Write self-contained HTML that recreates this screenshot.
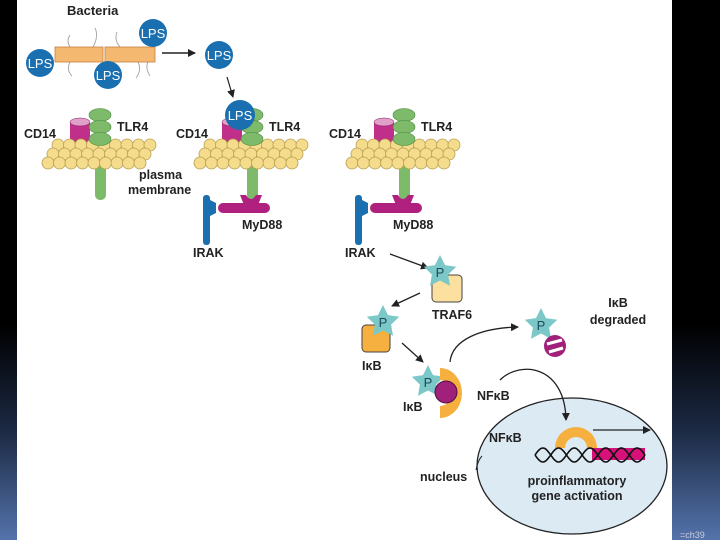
<!DOCTYPE html>
<html><head><meta charset="utf-8"><style>
html,body{margin:0;padding:0;width:720px;height:540px;overflow:hidden;background:#000}
svg{display:block}
text{font-family:"Liberation Sans",Arial,sans-serif;font-weight:bold;fill:#222}
</style></head><body>
<svg id="s" width="720" height="540" viewBox="0 0 720 540" xmlns="http://www.w3.org/2000/svg">
<defs>
<linearGradient id="bg" x1="0" y1="0" x2="0" y2="1">
<stop offset="0" stop-color="#000"/><stop offset="0.6" stop-color="#000"/><stop offset="0.8" stop-color="#1c2a44"/><stop offset="1" stop-color="#5473ab"/>
</linearGradient>
<marker id="ah" markerWidth="8" markerHeight="8" refX="7" refY="4" orient="auto" markerUnits="userSpaceOnUse"><path d="M0,0 L8,4 L0,8 Z" fill="#222"/></marker>
</defs>
<rect width="720" height="540" fill="url(#bg)"/>
<rect x="17" y="0" width="655" height="540" fill="#fff"/>
<g id="mem"></g>

<!-- Bacteria -->
<text x="67" y="15" font-size="13">Bacteria</text>
<g stroke="#aaa" fill="none" stroke-width="1">
<path d="M70,35 q-4,6 0,12"/><path d="M95,28 q4,8 -2,19"/><path d="M117,32 q-3,8 3,15"/>
<path d="M70,62 q-4,8 2,14"/><path d="M138,62 q4,8 -2,16"/><path d="M148,62 q-3,6 2,14"/>
</g>
<rect x="55" y="47" width="48" height="15" fill="#f5b870" stroke="#c08040" stroke-width="0.8"/>
<rect x="105" y="47" width="50" height="15" fill="#f5b870" stroke="#c08040" stroke-width="0.8"/>
<g font-size="13" text-anchor="middle">
<circle cx="40" cy="63" r="14" fill="#1a6fb0"/><text x="40" y="68" style="fill:#fff;font-weight:normal">LPS</text>
<circle cx="153" cy="33" r="14" fill="#1a6fb0"/><text x="153" y="38" style="fill:#fff;font-weight:normal">LPS</text>
<circle cx="108" cy="75" r="14" fill="#1a6fb0"/><text x="108" y="80" style="fill:#fff;font-weight:normal">LPS</text>
<circle cx="219" cy="55" r="14" fill="#1a6fb0"/><text x="219" y="60" style="fill:#fff;font-weight:normal">LPS</text>
</g>
<line x1="162" y1="53" x2="195" y2="53" stroke="#222" stroke-width="1.5" marker-end="url(#ah)"/>
<line x1="227" y1="77" x2="233" y2="97" stroke="#222" stroke-width="1.2" marker-end="url(#ah)"/>

<g id="cols"></g>

<g font-size="12.5">
<text x="24" y="138">CD14</text><text x="117" y="131">TLR4</text>
<text x="176" y="138">CD14</text><text x="269" y="131">TLR4</text>
<text x="329" y="138">CD14</text><text x="421" y="131">TLR4</text>
<text x="139" y="179">plasma</text><text x="128" y="194">membrane</text>
<text x="242" y="229">MyD88</text><text x="393" y="229">MyD88</text>
<text x="193" y="257">IRAK</text><text x="345" y="257">IRAK</text>
</g>
<circle cx="240" cy="115" r="15" fill="#1a6fb0"/><text x="240" y="120" font-size="13" text-anchor="middle" style="fill:#fff;font-weight:normal">LPS</text>

<g stroke="#222" stroke-width="1.3" fill="none">
<line x1="390" y1="254" x2="428" y2="268" marker-end="url(#ah)"/>
<line x1="420" y1="293" x2="392" y2="306" marker-end="url(#ah)"/>
<line x1="402" y1="343" x2="423" y2="362" marker-end="url(#ah)"/>
<path d="M450,362 C452,340 480,328 518,327" marker-end="url(#ah)"/>
</g>
<rect x="432" y="275" width="30" height="27" rx="4" fill="#fbe0a0" stroke="#444" stroke-width="1"/>
<rect x="362" y="325" width="28" height="27" rx="4" fill="#f5b040" stroke="#444" stroke-width="1"/>
<g id="stars"></g>
<path d="M440,368 A22,25 0 0 1 440,418 L440,406 A12,13 0 0 0 440,380 Z" fill="#f5b040"/>
<circle cx="446" cy="392" r="11" fill="#a0207a" stroke="#501040" stroke-width="1"/>
<circle cx="555" cy="346" r="11" fill="#a0207a"/>
<g stroke="#fff" stroke-width="3"><line x1="547" y1="344" x2="562" y2="340"/><line x1="549" y1="352" x2="563" y2="348"/></g>
<g font-size="12.5">
<text x="452" y="319" text-anchor="middle">TRAF6</text>
<text x="362" y="370">IκB</text>
<text x="403" y="411">IκB</text>
<text x="477" y="400">NFκB</text>
<text x="618" y="307" text-anchor="middle">IκB</text>
<text x="618" y="324" text-anchor="middle">degraded</text>
<text x="420" y="481">nucleus</text>
</g>
<ellipse cx="572" cy="466" rx="95" ry="68" fill="#dceaf4" stroke="#222" stroke-width="1.3"/>
<path d="M500,380 C520,360 565,365 566,420" stroke="#222" stroke-width="1.3" fill="none" marker-end="url(#ah)"/>
<path d="M476,470 q2,-10 6,-14" stroke="#222" fill="none" stroke-width="1"/>
<text x="489" y="442" font-size="12.5">NFκB</text>
<path d="M555,448 A21,21 0 0 1 597,448 L587,448 A11,11 0 0 0 565,448 Z" fill="#f5b040"/>
<rect x="592" y="448" width="53" height="12" fill="#d8107a"/>
<path id="h1" d="" stroke="#111" fill="none" stroke-width="1.6"/>
<path id="h2" d="" stroke="#111" fill="none" stroke-width="1.6"/>
<line x1="593" y1="430" x2="650" y2="430" stroke="#222" stroke-width="1.3" marker-end="url(#ah)"/>
<g font-size="12.5" text-anchor="middle">
<text x="577" y="485">proinflammatory</text>
<text x="577" y="500">gene activation</text>
</g>
<text x="680" y="538" font-size="9" style="fill:#ccd;font-weight:normal">=ch39</text>
</svg>
<script>
var NS="http://www.w3.org/2000/svg";
function el(p,t,a){var e=document.createElementNS(NS,t);for(var k in a)e.setAttribute(k,a[k]);p.appendChild(e);return e;}
var cols=document.getElementById("cols");
[0,152,304].forEach(function(o,i){
  el(cols,"rect",{x:70+o,y:122,width:20,height:22,fill:"#c0308a"});
  el(cols,"ellipse",{cx:80+o,cy:122,rx:10,ry:4,fill:"#e0a0c8",stroke:"#802060","stroke-width":0.5});
  el(cols,"rect",{x:95+o,y:140,width:11,height:60,rx:5,fill:"#7dbb6a"});
  var rows=[[58,145],[53,154],[48,163]];
  rows.forEach(function(r){for(var k=0;k<9;k++)el(cols,"circle",{cx:r[0]+o+k*11.5,cy:r[1],r:6,fill:"#f5dc8c",stroke:"#b8a050","stroke-width":0.8});});
  [115,127,139].forEach(function(y){el(cols,"ellipse",{cx:100+o,cy:y,rx:11,ry:6.5,fill:"#7dbb6a",stroke:"#4a8a40","stroke-width":0.6});});
  if(i>0){
    el(cols,"rect",{x:66+o,y:203,width:52,height:10,rx:5,fill:"#b0207e"});
    el(cols,"path",{d:"M88,195 L92,205 L106,205 L110,195 L104,195 Q99,203 94,195 Z",transform:"translate("+o+",0)",fill:"#b0207e"});
    el(cols,"rect",{x:51+o,y:195,width:7,height:50,rx:3,fill:"#1a6fb0"});
    el(cols,"path",{d:"M58,200 L64,203 L64,213 L58,216 Z",transform:"translate("+o+",0)",fill:"#1a6fb0"});
  }
});
var st=document.getElementById("stars");
function star(cx,cy,R){var p="";for(var k=0;k<10;k++){var r=k%2?R*0.5:R,a=-Math.PI/2+k*Math.PI/5;p+=(k?"L":"M")+(cx+r*Math.cos(a)).toFixed(1)+","+(cy+r*Math.sin(a)).toFixed(1);}
 el(st,"path",{d:p+"Z",fill:"#7cc8c8"});var t=el(st,"text",{x:cx,y:cy+5,"font-size":13,"text-anchor":"middle"});t.style.fill="#1a4a5a";t.style.fontWeight="normal";t.textContent="P";}
star(440,272,17);star(383,322,17);star(428,382,17);star(541,325,17);
var d1="",d2="";for(var x=535;x<=645;x+=1){var y1=455+7*Math.sin((x-535)/5),y2=455-7*Math.sin((x-535)/5);d1+=(x==535?"M":"L")+x+","+y1.toFixed(1);d2+=(x==535?"M":"L")+x+","+y2.toFixed(1);}
document.getElementById("h1").setAttribute("d",d1);document.getElementById("h2").setAttribute("d",d2);
</script>
</body></html>
